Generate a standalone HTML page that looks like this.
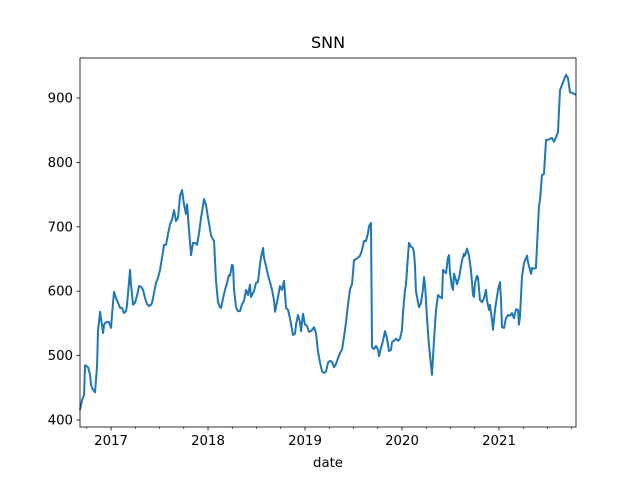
<!DOCTYPE html>
<html><head><meta charset="utf-8"><style>
body{margin:0;background:#fff}
svg{display:block;font-family:"DejaVu Sans","Liberation Sans",sans-serif}
</style></head><body>
<svg id="chart" width="640" height="480">
<rect width="640" height="480" fill="#fff"/>
<text x="328" y="48" text-anchor="middle" font-size="16">SNN</text>
<text x="328" y="467" text-anchor="middle" font-size="13.3">date</text>
<g id="ticks"></g>
<path id="line" fill="none" stroke="#1f77b4" stroke-width="2" stroke-linejoin="round"/>
<rect x="80" y="58" width="496" height="369" fill="none" stroke="#000" stroke-width="0.8"/>
</svg>
<script>
const yearOffsets=[-.320,-.299,-.278,-.268,-.237,-.216,-.206,-.186,-.165,-.155,-.144,-.134,-.124,-.113,-.103,-.082,-.072,-.052,-.021,0,.010,.031,.052,.072,.093,.113,.134,.155,.165,.196,.206,.227,.247,.268,.289,.309,.330,.351,.371,.392,.412,.423,.443,.464,.485,.505,.536,.546,.567,.588,.608,.629,.649,.670,.691,.711,.732,.753,.773,.784,.804,.825,.845,.866,.887,.907,.928,.959,.979,1.000,1.031,1.041,1.062,1.082,1.103,1.124,1.134,1.155,1.175,1.196,1.216,1.227,1.247,1.258,1.268,1.289,1.309,1.330,1.351,1.371,1.392,1.412,1.433,1.443,1.474,1.495,1.515,1.536,1.546,1.567,1.577,1.598,1.619,1.660,1.680,1.691,1.722,1.742,1.763,1.784,1.804,1.825,1.845,1.876,1.897,1.907,1.928,1.948,1.959,1.979,2.000,2.021,2.041,2.062,2.093,2.113,2.134,2.155,2.175,2.196,2.216,2.237,2.258,2.278,2.299,2.320,2.340,2.361,2.381,2.402,2.423,2.443,2.464,2.485,2.505,2.526,2.546,2.567,2.588,2.608,2.629,2.649,2.660,2.680,2.691,2.711,2.732,2.753,2.763,2.784,2.804,2.825,2.845,2.866,2.887,2.897,2.918,2.938,2.959,2.979,3.000,3.010,3.031,3.041,3.062,3.072,3.093,3.113,3.124,3.134,3.144,3.165,3.175,3.196,3.216,3.227,3.237,3.258,3.278,3.299,3.309,3.330,3.351,3.371,3.392,3.412,3.423,3.454,3.474,3.485,3.495,3.515,3.526,3.536,3.557,3.567,3.588,3.619,3.639,3.649,3.670,3.691,3.711,3.732,3.742,3.753,3.773,3.784,3.804,3.825,3.845,3.866,3.876,3.897,3.907,3.928,3.938,3.959,3.990,4.010,4.021,4.031,4.052,4.072,4.093,4.113,4.134,4.155,4.175,4.196,4.206,4.216,4.237,4.258,4.289,4.299,4.320,4.330,4.340,4.361,4.381,4.412,4.423,4.443,4.464,4.485,4.505,4.546,4.567,4.588,4.608,4.629,4.649,4.691,4.711,4.732,4.753,4.794];
const prices=[416,431,439,485,482,470,454,447,443,462,485,540,552,568,558,535,548,552,552,543,563,599,589,582,574,574,566,569,579,633,610,579,582,593,608,607,602,589,580,577,579,582,597,613,621,633,661,672,672,689,704,711,726,709,714,748,757,734,720,735,695,656,675,675,672,690,714,743,734,714,687,683,678,617,583,575,574,589,602,613,625,624,641,639,602,575,569,569,580,585,602,594,610,591,600,613,614,642,652,667,652,639,625,602,586,568,591,608,602,616,574,571,558,532,534,548,563,552,538,565,548,546,537,538,544,535,506,489,476,473,475,489,492,490,482,487,496,504,509,529,552,579,603,611,648,650,652,655,664,678,678,690,701,706,513,510,515,509,499,512,523,538,527,507,509,521,523,526,523,526,540,566,602,610,656,675,669,667,659,639,600,583,575,582,603,622,610,558,516,485,470,524,571,594,591,589,633,628,652,656,628,607,602,627,617,611,621,648,658,655,666,655,633,594,591,613,624,621,586,583,589,602,586,571,579,555,540,571,602,614,586,544,543,558,563,562,566,558,572,571,548,560,622,644,655,645,633,627,636,635,636,732,742,780,782,835,835,838,832,839,847,912,920,936,931,909,908,905];
const yTicks=[400,500,600,700,800,900];
const xTickYears=[2017,2018,2019,2020,2021];
const baseYear=2017;
const X0=80,X1=576,Y0=427,Y1=58;
const xMin=2016.68,xMax=2021.794,yMin=389.1,yMax=962.1;
const xs=t=>X0+(t-xMin)/(xMax-xMin)*(X1-X0);
const ys=v=>Y0-(v-yMin)/(yMax-yMin)*(Y0-Y1);
const NS="http://www.w3.org/2000/svg";
const g=document.getElementById('ticks');
function mk(tag,attrs){const e=document.createElementNS(NS,tag);for(const k in attrs)e.setAttribute(k,attrs[k]);g.appendChild(e);return e;}
yTicks.forEach(v=>{const y=ys(v);
const l=mk('line',{x1:X0-3.5,x2:X0,y1:y,y2:y,stroke:'#000','stroke-width':0.8});


const t=mk('text',{x:X0-7,y:y+4.5,'text-anchor':'end','font-size':13.3});t.textContent=v;

});
for(let q=Math.ceil(xMin*4);q<=xMax*4;q++){const yr=q/4;if(Number.isInteger(yr))continue;const x=xs(yr);
const l=mk('line',{x1:x,x2:x,y1:Y0,y2:Y0+2,stroke:'#000','stroke-width':0.6});

}
xTickYears.forEach(yr=>{const x=xs(yr);
const l=mk('line',{x1:x,x2:x,y1:Y0,y2:Y0+3.5,stroke:'#000','stroke-width':0.8});


const t=mk('text',{x:x,y:Y0+18,'text-anchor':'middle','font-size':13.3});t.textContent=yr;

});
let d='';prices.forEach((v,i)=>{d+=(i?'L':'M')+xs(baseYear+yearOffsets[i]).toFixed(2)+','+ys(v).toFixed(2);});
document.getElementById('line').setAttribute('d',d);
</script>
</body></html>
